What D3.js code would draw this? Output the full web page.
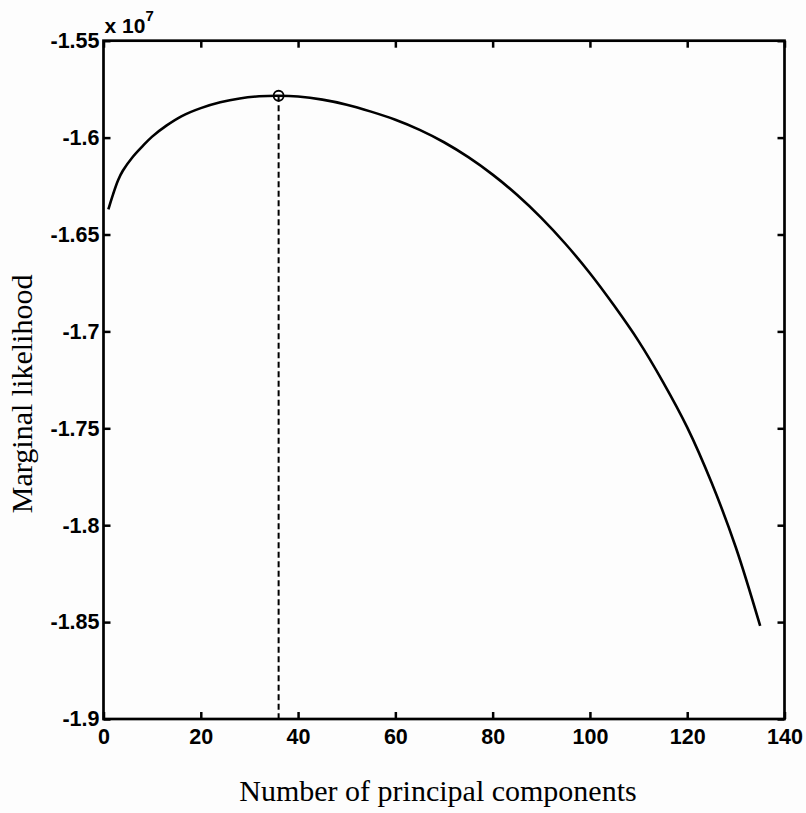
<!DOCTYPE html>
<html>
<head>
<meta charset="utf-8">
<script src="https://cdn.jsdelivr.net/npm/d3@7"></script>
<style>
  body { margin: 0; background: #fff; }
  .tick text { font-family: "Liberation Sans", Arial, sans-serif; font-weight: bold; font-size: 21.5px; fill: #000; }
  .tick line { stroke: #000; stroke-width: 2.5; }
</style>
</head>
<body>
<div id="chart"></div>
<script>
// values (likelihood in units of 1e7)
const pcs = [1, 2, 3, 4, 6, 8, 10, 13, 16, 20, 24, 28, 32, 36, 40, 45, 50, 55, 60, 65,
             70, 75, 80, 85, 90, 95, 100, 105, 110, 115, 120, 125, 130, 135];
const likelihood = [-1.637, -1.629, -1.622, -1.617, -1.610, -1.6045, -1.5995, -1.5937, -1.5890, -1.5848,
                    -1.5818, -1.5798, -1.5787, -1.5784, -1.5788, -1.5804, -1.5830, -1.5866, -1.5908, -1.5960,
                    -1.6024, -1.6101, -1.6191, -1.6295, -1.6414, -1.6549, -1.6700, -1.6868, -1.7050, -1.7260,
                    -1.7495, -1.7780, -1.8115, -1.8520];
const peakPc = 36;
const peakValue = -1.5784;

const xTicks = [0, 20, 40, 60, 80, 100, 120, 140];
const yTicks = [-1.9, -1.85, -1.8, -1.75, -1.7, -1.65, -1.6, -1.55];
const yTickLabels = ["-1.9", "-1.85", "-1.8", "-1.75", "-1.7", "-1.65", "-1.6", "-1.55"];

const width = 806, height = 813;
const plotLeft = 103.5, plotRight = 784.5, plotTop = 40.7, plotBottom = 719;

const svg = d3.select("#chart").append("svg")
    .attr("width", width)
    .attr("height", height);

svg.append("rect")
    .attr("width", width)
    .attr("height", height)
    .attr("fill", "#fdfdfd");

const x = d3.scaleLinear().domain([0, 140]).range([plotLeft, plotRight]);
const y = d3.scaleLinear().domain([-1.9, -1.55]).range([plotBottom, plotTop]);

// axes with inward ticks
svg.append("g")
    .attr("transform", "translate(0," + plotBottom + ")")
    .call(d3.axisBottom(x).tickValues(xTicks).tickSizeInner(-7).tickSizeOuter(0).tickPadding(10));

svg.append("g")
    .attr("transform", "translate(0," + plotTop + ")")
    .call(d3.axisTop(x).tickValues(xTicks).tickSizeInner(-7).tickSizeOuter(0).tickFormat(""));

svg.append("g")
    .attr("transform", "translate(" + plotLeft + ",0)")
    .call(d3.axisLeft(y).tickValues(yTicks).tickSizeInner(-7).tickSizeOuter(0).tickPadding(4)
        .tickFormat((d, i) => yTickLabels[i]));

svg.append("g")
    .attr("transform", "translate(" + plotRight + ",0)")
    .call(d3.axisRight(y).tickValues(yTicks).tickSizeInner(-7).tickSizeOuter(0).tickFormat(""));

svg.selectAll(".domain").remove();

// box
svg.append("rect")
    .attr("x", plotLeft)
    .attr("y", plotTop)
    .attr("width", plotRight - plotLeft)
    .attr("height", plotBottom - plotTop)
    .attr("fill", "none")
    .attr("stroke", "#000")
    .attr("stroke-width", 2.7);

// exponent
const expo = svg.append("text")
    .attr("x", plotLeft + 1)
    .attr("y", plotTop - 8)
    .style("font-family", "Liberation Sans, Arial, sans-serif")
    .style("font-weight", "bold")
    .style("font-size", "21px")
    .text("x 10");
expo.append("tspan")
    .attr("dy", -12)
    .style("font-size", "15px")
    .text("7");

// curve
const line = d3.line()
    .x((d, i) => x(pcs[i]))
    .y(d => y(d))
    .curve(d3.curveCatmullRom.alpha(0.5));

svg.append("path")
    .datum(likelihood)
    .attr("d", line)
    .attr("fill", "none")
    .attr("stroke", "#000")
    .attr("stroke-width", 2.6);

// peak marker and dashed drop line
svg.append("line")
    .attr("x1", x(peakPc))
    .attr("x2", x(peakPc))
    .attr("y1", y(peakValue))
    .attr("y2", plotBottom)
    .attr("stroke", "#000")
    .attr("stroke-width", 2)
    .attr("stroke-dasharray", "6,3.5");

svg.append("circle")
    .attr("cx", x(peakPc))
    .attr("cy", y(peakValue))
    .attr("r", 5)
    .attr("fill", "none")
    .attr("stroke", "#000")
    .attr("stroke-width", 1.8);

// titles
svg.append("text")
    .attr("x", (plotLeft + plotRight) / 2 - 6)
    .attr("y", 801)
    .attr("text-anchor", "middle")
    .style("font-family", "Liberation Serif, Times New Roman, serif")
    .style("font-size", "30px")
    .text("Number of principal components");

svg.append("text")
    .attr("transform", "translate(32," + ((plotTop + plotBottom) / 2 + 14) + ") rotate(-90)")
    .attr("text-anchor", "middle")
    .style("font-family", "Liberation Serif, Times New Roman, serif")
    .style("font-size", "30px")
    .text("Marginal likelihood");
</script>
</body>
</html>
